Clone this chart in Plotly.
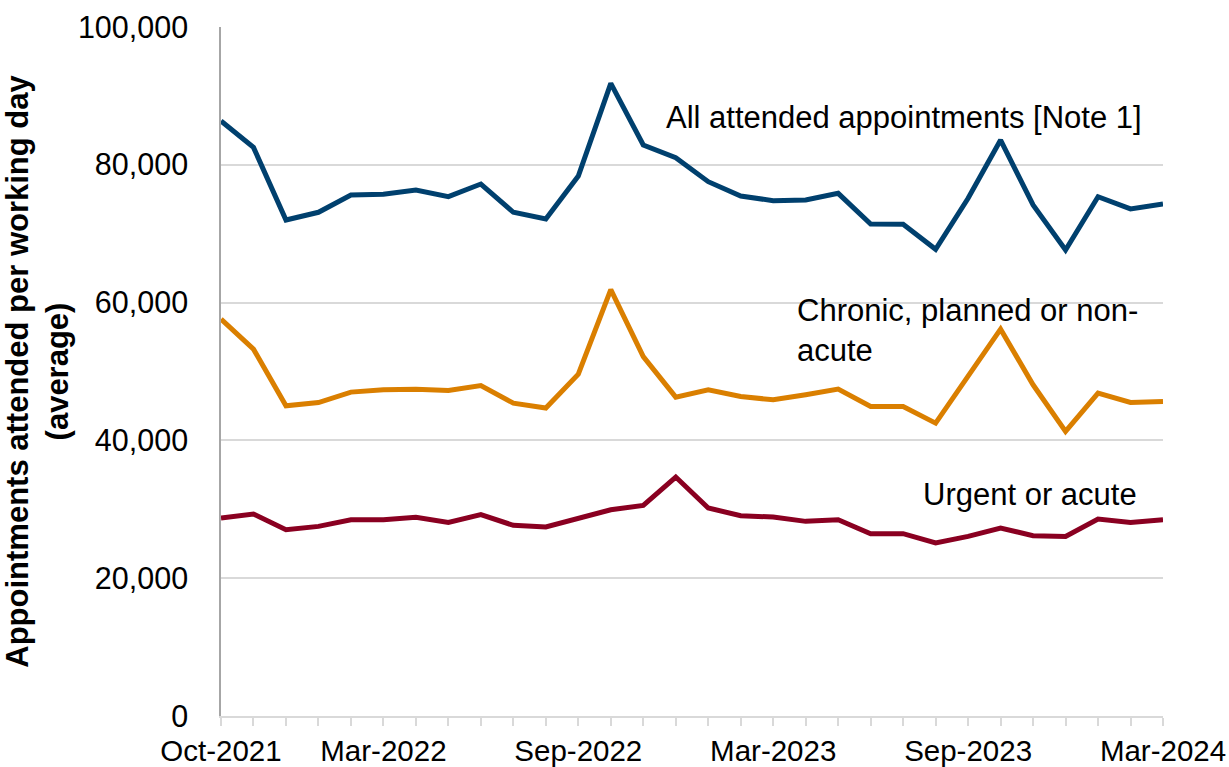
import plotly.graph_objects as go

# Monthly categories, October 2021 to March 2024
months = [
    "Oct-2021", "Nov-2021", "Dec-2021", "Jan-2022", "Feb-2022", "Mar-2022",
    "Apr-2022", "May-2022", "Jun-2022", "Jul-2022", "Aug-2022", "Sep-2022",
    "Oct-2022", "Nov-2022", "Dec-2022", "Jan-2023", "Feb-2023", "Mar-2023",
    "Apr-2023", "May-2023", "Jun-2023", "Jul-2023", "Aug-2023", "Sep-2023",
    "Oct-2023", "Nov-2023", "Dec-2023", "Jan-2024", "Feb-2024", "Mar-2024",
]

# Months that carry a visible axis label
labelled_months = ["Oct-2021", "Mar-2022", "Sep-2022", "Mar-2023", "Sep-2023", "Mar-2024"]

# Average appointments attended per working day
all_attended = [
    86350, 82530, 71990, 73110, 75620, 75720, 76340, 75370, 77210, 73110,
    72140, 78370, 91810, 82870, 81030, 77550, 75470, 74790, 74890, 75860,
    71410, 71370, 67740, 75140, 83590, 74170, 67640, 75370, 73590, 74310,
]
chronic_planned = [
    57590, 53240, 45020, 45500, 47010, 47340, 47440, 47240, 47970, 45410,
    44690, 49620, 61890, 52170, 46280, 47340, 46370, 45890, 46620, 47440,
    44920, 44920, 42510, 49370, 56140, 48070, 41300, 46860, 45500, 45650,
]
urgent_acute = [
    28740, 29320, 27040, 27520, 28490, 28490, 28830, 28100, 29220, 27670,
    27430, 28740, 29940, 30570, 34680, 30190, 29070, 28880, 28250, 28490,
    26460, 26460, 25110, 26070, 27290, 26170, 26070, 28590, 28100, 28490,
]

y_ticks = [0, 20000, 40000, 60000, 80000, 100000]

FONT = "Liberation Sans, Arial, sans-serif"
BLUE = "#00406E"
ORANGE = "#DA7F00"
RED = "#8A0021"

fig = go.Figure()
for values, colour in [(all_attended, BLUE), (chronic_planned, ORANGE), (urgent_acute, RED)]:
    fig.add_trace(go.Scatter(
        x=months, y=values, mode="lines",
        line=dict(color=colour, width=5),
        hoverinfo="x+y", showlegend=False,
    ))

# Series labels placed beside their lines
labels = [
    ("All attended appointments [Note 1]", months[13], 86900, 21),
    ("Chronic, planned or non-<br>acute", months[17], 55900, 22),
    ("Urgent or acute", months[21], 32100, 18),
]
for text, xm, yv, dx in labels:
    fig.add_annotation(
        x=xm, y=yv, xref="x", yref="y", text=text, showarrow=False,
        xanchor="left", yanchor="middle", align="left", xshift=dx,
        font=dict(family=FONT, size=31, color="#000000"),
    )

fig.update_layout(
    width=1229, height=767,
    margin=dict(l=221, r=66, t=27, b=51),
    paper_bgcolor="white", plot_bgcolor="white",
    font=dict(family=FONT, size=30, color="#000000"),
    xaxis=dict(
        type="category",
        range=[0, len(months) - 1],
        automargin=False,
        tickmode="array",
        tickvals=months,
        ticktext=[m if m in labelled_months else "" for m in months],
        ticks="outside", ticklen=8, tickwidth=1.5, tickcolor="#D9D9D9",
        showline=True, linecolor="#D9D9D9", linewidth=1.5,
        showgrid=False, zeroline=False,
        tickangle=0,
        tickfont=dict(family=FONT, size=29.5, color="#000000"),
    ),
    yaxis=dict(
        range=[0, 100000],
        automargin=False,
        tickmode="array", tickvals=y_ticks,
        tickformat=",d",
        showgrid=True, gridcolor="#D9D9D9", gridwidth=1.5,
        showline=True, linecolor="#A6A6A6", linewidth=1.5,
        zeroline=False,
        ticks="", ticklabelstandoff=25,
        tickfont=dict(family=FONT, size=30.5, color="#000000"),
        title=dict(
            text="<b>Appointments attended per working day<br>(average)</b>",
            font=dict(family=FONT, size=31, color="#000000"),
            standoff=3,
        ),
    ),
)

fig.write_html("out.html")
